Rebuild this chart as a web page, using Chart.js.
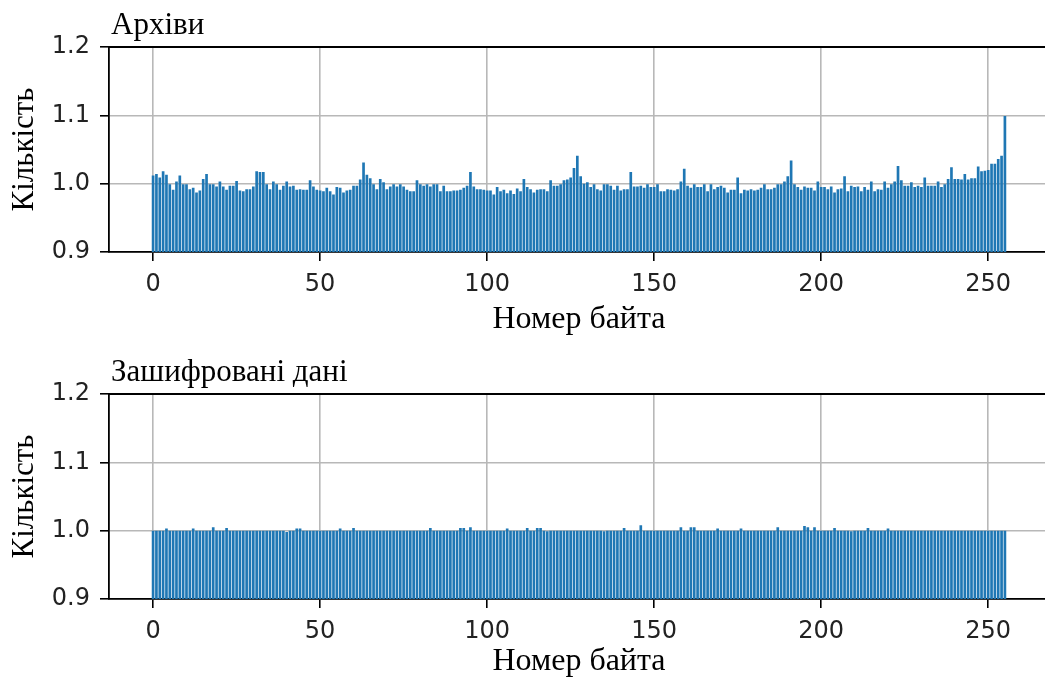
<!DOCTYPE html>
<html>
<head>
<meta charset="utf-8">
<script src="https://cdn.jsdelivr.net/npm/chart.js@4.4.1/dist/chart.umd.min.js"></script>
<style>
  html, body { margin: 0; padding: 0; background: #fff; overflow: hidden; }
  #wrap { position: relative; width: 1045px; height: 680px; overflow: hidden; background: #fff; }
  canvas { position: absolute; left: 0; }
</style>
</head>
<body>
<div id="wrap">
  <canvas id="archives" width="1060" height="340" style="top:0px"></canvas>
  <canvas id="encrypted" width="1060" height="340" style="top:347px"></canvas>
</div>
<script>
// Byte numbers 0..255 (x positions of the bars)
const bytes = Array.from({ length: 256 }, (_, i) => i);

// Tick labels
const xTicks = [0, 50, 100, 150, 200, 250];
const yTicks = [0.9, 1.0, 1.1, 1.2];

// "Архіви" - normalised count per byte value
const archiveCounts = [
  1.012, 1.014, 1.009, 1.018, 1.013, 0.999, 0.991, 1.003, 1.012, 0.999, 0.999, 0.992, 0.994, 0.987, 0.990, 1.007,
  1.014, 0.999, 0.999, 0.996, 1.003, 0.996, 0.991, 0.997, 0.997, 1.004, 0.990, 0.989, 0.992, 0.992, 0.996, 1.018,
  1.017, 1.017, 0.999, 0.992, 1.003, 0.999, 0.991, 0.997, 1.003, 0.996, 0.997, 0.991, 0.992, 0.991, 0.991, 1.005,
  0.996, 0.991, 0.990, 0.989, 0.994, 0.989, 0.984, 0.995, 0.994, 0.987, 0.990, 0.991, 0.997, 0.997, 1.006, 1.031,
  1.013, 1.008, 0.999, 0.992, 1.007, 1.002, 0.992, 0.996, 0.999, 0.996, 0.999, 0.996, 0.991, 0.989, 0.989, 1.005,
  0.999, 0.997, 0.999, 0.996, 0.999, 0.999, 0.989, 0.997, 0.989, 0.989, 0.990, 0.990, 0.991, 0.994, 0.997, 1.017,
  0.996, 0.992, 0.992, 0.991, 0.990, 0.990, 0.984, 0.995, 0.989, 0.991, 0.986, 0.990, 0.985, 0.993, 0.989, 1.007,
  0.995, 0.992, 0.987, 0.991, 0.992, 0.992, 0.989, 1.005, 0.997, 0.997, 0.999, 1.005, 1.006, 1.009, 1.023, 1.041,
  1.011, 1.000, 1.002, 0.995, 0.999, 0.992, 0.990, 0.999, 0.999, 0.997, 0.991, 0.997, 0.990, 0.992, 0.992, 1.017,
  0.996, 0.996, 0.997, 0.994, 0.999, 0.995, 0.995, 0.999, 0.989, 0.989, 0.992, 0.991, 0.990, 0.992, 1.003, 1.022,
  0.997, 0.994, 0.999, 0.995, 0.995, 0.999, 0.989, 0.999, 0.992, 0.995, 0.997, 0.994, 0.987, 0.991, 0.991, 1.009,
  0.986, 0.991, 0.990, 0.992, 0.990, 0.991, 0.994, 0.999, 0.992, 0.992, 0.994, 0.999, 0.999, 1.003, 1.011, 1.034,
  0.999, 0.995, 0.991, 0.996, 0.994, 0.994, 0.990, 1.003, 0.995, 0.995, 0.992, 0.996, 0.987, 0.992, 0.993, 1.011,
  0.989, 0.997, 0.995, 0.996, 0.989, 0.995, 0.991, 1.003, 0.989, 0.992, 0.991, 1.003, 0.994, 0.999, 1.003, 1.026,
  1.005, 0.997, 0.997, 1.002, 0.995, 0.997, 0.995, 1.009, 0.997, 0.997, 0.997, 1.003, 0.995, 0.999, 1.007, 1.024,
  1.007, 1.007, 1.006, 1.014, 1.006, 1.008, 1.008, 1.025, 1.018, 1.019, 1.020, 1.029, 1.029, 1.036, 1.041, 1.099
];

// "Зашифровані дані" - almost flat
const encryptedCounts = [
  1.000, 1.000, 1.000, 1.000, 1.003, 1.000, 1.000, 1.000, 1.000, 1.000, 1.000, 1.000, 1.003, 1.000, 1.000, 1.000,
  1.000, 1.000, 1.005, 1.000, 1.000, 1.000, 1.004, 1.000, 1.000, 1.000, 1.000, 1.000, 1.000, 1.000, 1.000, 1.000,
  1.000, 1.000, 1.000, 1.000, 1.000, 1.000, 1.000, 1.000, 0.998, 1.000, 1.000, 1.003, 1.003, 1.000, 1.000, 1.000,
  1.000, 1.000, 1.000, 1.000, 1.000, 1.000, 1.000, 1.000, 1.003, 1.000, 1.000, 1.000, 1.004, 1.000, 1.000, 1.000,
  1.000, 1.000, 1.000, 1.000, 1.000, 1.000, 1.000, 1.000, 1.000, 1.000, 1.000, 1.000, 1.000, 1.000, 1.000, 1.000,
  1.000, 1.000, 1.000, 1.004, 1.000, 1.000, 1.000, 1.000, 1.000, 1.000, 1.000, 1.000, 1.004, 1.004, 1.000, 1.005,
  1.000, 1.000, 1.000, 1.000, 1.000, 1.000, 1.000, 1.000, 1.000, 1.000, 1.003, 1.000, 1.000, 1.000, 1.000, 1.000,
  1.004, 1.000, 1.000, 1.004, 1.004, 1.000, 0.999, 1.000, 1.000, 1.000, 1.000, 1.000, 1.000, 1.000, 1.000, 1.000,
  1.000, 1.000, 1.000, 1.000, 1.000, 1.000, 1.000, 0.999, 1.000, 1.000, 1.000, 1.000, 1.000, 1.004, 1.000, 1.000,
  1.000, 1.000, 1.008, 1.000, 1.000, 1.000, 1.000, 1.000, 1.000, 1.000, 1.000, 1.000, 1.000, 1.000, 1.005, 1.000,
  1.000, 1.005, 1.005, 1.000, 1.000, 1.000, 1.000, 1.000, 1.000, 1.003, 1.000, 1.000, 1.000, 1.000, 1.000, 1.000,
  1.003, 1.000, 1.000, 1.000, 1.000, 1.000, 1.000, 1.000, 1.000, 1.000, 1.000, 1.005, 1.000, 1.000, 1.000, 1.000,
  1.000, 1.000, 1.000, 1.007, 1.005, 1.000, 1.005, 1.000, 1.000, 1.000, 1.000, 1.000, 1.004, 1.000, 1.000, 1.000,
  1.000, 0.999, 1.000, 1.000, 1.000, 1.000, 1.004, 1.000, 1.000, 1.000, 1.000, 1.000, 1.003, 1.000, 1.000, 1.000,
  1.000, 1.000, 1.000, 1.000, 1.000, 1.000, 1.000, 1.000, 1.000, 1.000, 1.000, 1.000, 1.000, 1.000, 1.000, 1.000,
  1.000, 1.000, 1.000, 1.000, 1.000, 1.000, 1.000, 1.000, 1.000, 1.000, 1.000, 1.000, 1.000, 1.000, 1.000, 1.000
];

const serif = "'Liberation Serif', 'Times New Roman', serif";
const sans = "'DejaVu Sans', sans-serif";

// Subplot title at the left of the axes + the black top/right spines
const panelDecor = {
  id: "panelDecor",
  afterDraw(chart, args, opts) {
    const { ctx, chartArea } = chart;
    ctx.save();
    ctx.strokeStyle = "#000";
    ctx.lineWidth = 1.8;
    ctx.beginPath();
    ctx.moveTo(chartArea.left, chartArea.top);
    ctx.lineTo(chartArea.right, chartArea.top);
    ctx.lineTo(chartArea.right, chartArea.bottom);
    ctx.stroke();
    ctx.font = "31px " + serif;
    ctx.fillStyle = "#000";
    ctx.textBaseline = "alphabetic";
    ctx.fillText(opts.text, chartArea.left + 2, chartArea.top - 13);
    ctx.restore();
  },
};

function makeChart(id, title, values, xTitlePad) {
  const ctx = document.getElementById(id).getContext("2d");
  return new Chart(ctx, {
    type: "bar",
    data: {
      datasets: [
        {
          data: bytes.map((b, i) => ({ x: b, y: values[i] })),
          backgroundColor: "#1f77b4",
          borderWidth: 0,
          barPercentage: 0.8,
          categoryPercentage: 1.0,
        },
      ],
    },
    options: {
      responsive: false,
      animation: false,
      devicePixelRatio: 1,
      layout: { padding: { top: 47, right: 11, bottom: 0, left: 0 } },
      plugins: {
        legend: { display: false },
        tooltip: { enabled: false },
        panelDecor: { text: title },
      },
      scales: {
        x: {
          type: "linear",
          min: -13.2,
          max: 268.2,
          offset: false,
          z: 1,
          afterFit: (scale) => { scale.height = 88; },
          afterBuildTicks: (scale) => { scale.ticks = xTicks.map((v) => ({ value: v })); },
          ticks: {
            padding: 9,
            color: "#222",
            font: { family: sans, size: 24 },
            callback: (v) => String(v),
          },
          grid: { offset: false, color: "#b8b8b8", lineWidth: 1.6, tickColor: "#000", tickLength: 9, tickWidth: 1.6 },
          border: { color: "#000", width: 1.8 },
          title: {
            display: true,
            text: "Номер байта",
            color: "#000",
            font: { family: serif, size: 32 },
            padding: { top: 0, bottom: xTitlePad },
          },
        },
        y: {
          min: 0.9,
          max: 1.2,
          z: 1,
          afterFit: (scale) => { scale.width = 109; },
          afterBuildTicks: (scale) => { scale.ticks = yTicks.map((v) => ({ value: v })); },
          ticks: {
            padding: 10,
            color: "#222",
            font: { family: sans, size: 24 },
            callback: (v) => Number(v).toFixed(1),
          },
          grid: { color: "#b8b8b8", lineWidth: 1.6, tickColor: "#000", tickLength: 9, tickWidth: 1.6 },
          border: { color: "#000", width: 1.8 },
          title: {
            display: true,
            text: "Кількість",
            color: "#000",
            font: { family: serif, size: 31 },
            padding: { top: 6, bottom: 0 },
          },
        },
      },
    },
    plugins: [panelDecor],
  });
}

makeChart("archives", "Архіви", archiveCounts, 1);
makeChart("encrypted", "Зашифровані дані", encryptedCounts, 6);
</script>
</body>
</html>
